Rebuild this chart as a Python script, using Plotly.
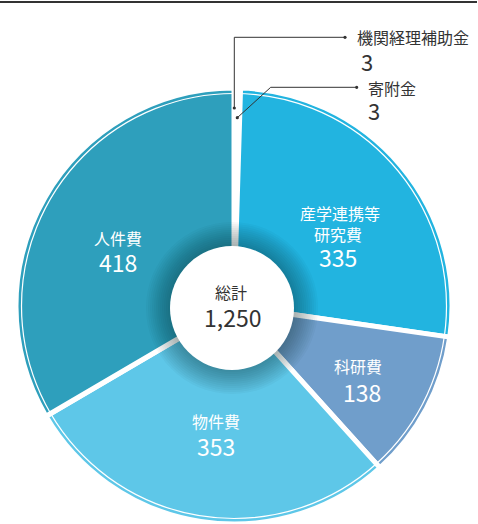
import plotly.graph_objects as go

# Budget breakdown (単位は元資料のまま)
categories = ["機関経理補助金", "寄附金", "産学連携等研究費", "科研費", "物件費", "人件費"]
values = [3, 3, 335, 138, 353, 418]
colors = ["#ffffff", "#ffffff", "#22b4e0", "#709ecb", "#5ec7e8", "#2e9fbc"]

total_label = "総計"
total_value = sum(values)

W, H = 478, 524
CX, CY, R = 234, 306, 218          # pie centre / radius in pixels
DISK_CX, DISK_CY, DISK_R = 232, 308, 62


def px(x):
    return x / W


def py(y):
    return 1 - y / H


fig = go.Figure()
fig.add_trace(go.Pie(
    labels=categories,
    values=values,
    sort=False,
    direction="clockwise",
    rotation=0,
    marker=dict(colors=colors, line=dict(color="#ffffff", width=5)),
    textinfo="none",
    hoverinfo="skip",
    showlegend=False,
    domain=dict(x=[px(CX - R), px(CX + R)], y=[py(CY + R), py(CY - R)]),
))

shapes = []
# thin white rim just inside the outer edge
rim = R - 2.5 - 3
shapes.append(dict(type="circle", xref="paper", yref="paper",
                   x0=px(CX - rim), x1=px(CX + rim), y0=py(CY + rim), y1=py(CY - rim),
                   line=dict(color="#ffffff", width=1.2), fillcolor="rgba(0,0,0,0)"))
# soft shadow around the centre disk
for k in range(12, 0, -1):
    r = DISK_R + k * 2.0
    shapes.append(dict(type="circle", xref="paper", yref="paper",
                       x0=px(DISK_CX - r), x1=px(DISK_CX + r),
                       y0=py(DISK_CY + r), y1=py(DISK_CY - r),
                       line=dict(width=0), fillcolor="rgba(0,20,40,0.03)"))
shapes.append(dict(type="circle", xref="paper", yref="paper",
                   x0=px(DISK_CX - DISK_R), x1=px(DISK_CX + DISK_R),
                   y0=py(DISK_CY + DISK_R), y1=py(DISK_CY - DISK_R),
                   line=dict(width=0), fillcolor="#ffffff"))
# rule across the top
shapes.append(dict(type="line", xref="paper", yref="paper",
                   x0=0, x1=px(477), y0=py(2), y1=py(2),
                   line=dict(color="#333333", width=2)))

# leader lines for the two small slices
leaders = [
    [(234.3, 108), (234.3, 37.3), (345, 37.3)],
    [(237.3, 117.7), (270.7, 87.3), (356.7, 87.3)],
]
for pts in leaders:
    for (xa, ya), (xb, yb) in zip(pts[:-1], pts[1:]):
        shapes.append(dict(type="line", xref="paper", yref="paper",
                           x0=px(xa), x1=px(xb), y0=py(ya), y1=py(yb),
                           line=dict(color="#333333", width=1)))
    for (xd, yd) in (pts[0], pts[-1]):
        d = 1.6
        shapes.append(dict(type="circle", xref="paper", yref="paper",
                           x0=px(xd - d), x1=px(xd + d), y0=py(yd + d), y1=py(yd - d),
                           line=dict(width=0), fillcolor="#333333"))

fig.update_layout(shapes=shapes)

FONT = "Noto Sans CJK JP"
annotations = []


def label(text, x, y, size, color, anchor="center"):
    annotations.append(dict(text=text, x=px(x), y=py(y), xref="paper", yref="paper",
                            showarrow=False, xanchor=anchor, yanchor="middle",
                            font=dict(family=FONT, size=size, color=color)))


# inside labels: name lines and value, centred at these pixel positions
inside = {
    "産学連携等研究費": (["産学連携等", "研究費"], [(340, 213), (338, 234)], (338, 257)),
    "科研費": (["科研費"], [(358, 366)], (362, 392)),
    "物件費": (["物件費"], [(216, 421)], (216, 446)),
    "人件費": (["人件費"], [(118, 238)], (118, 262)),
}
for name, v in zip(categories, values):
    if name in inside:
        lines, pos, vpos = inside[name]
        for t, (x, y) in zip(lines, pos):
            label(t, x, y, 16, "#ffffff")
        label(f"{v:,}", vpos[0], vpos[1], 23, "#ffffff")

# outside labels for the small slices
outside = {
    "機関経理補助金": ((355, 37), (359, 61)),
    "寄附金": ((366, 88), (366, 110)),
}
for name, v in zip(categories, values):
    if name in outside:
        (nx, ny), (vx, vy) = outside[name]
        label(name, nx, ny, 16, "#333333", anchor="left")
        label(f"{v:,}", vx, vy, 22, "#333333", anchor="left")

# centre total
label(total_label, 231, 292, 16, "#333333")
label(f"{total_value:,}", 232, 317, 23, "#333333")

fig.update_layout(
    annotations=annotations,
    width=W, height=H,
    margin=dict(l=0, r=0, t=0, b=0),
    paper_bgcolor="#ffffff",
    plot_bgcolor="#ffffff",
)

fig.write_html("out.html")
